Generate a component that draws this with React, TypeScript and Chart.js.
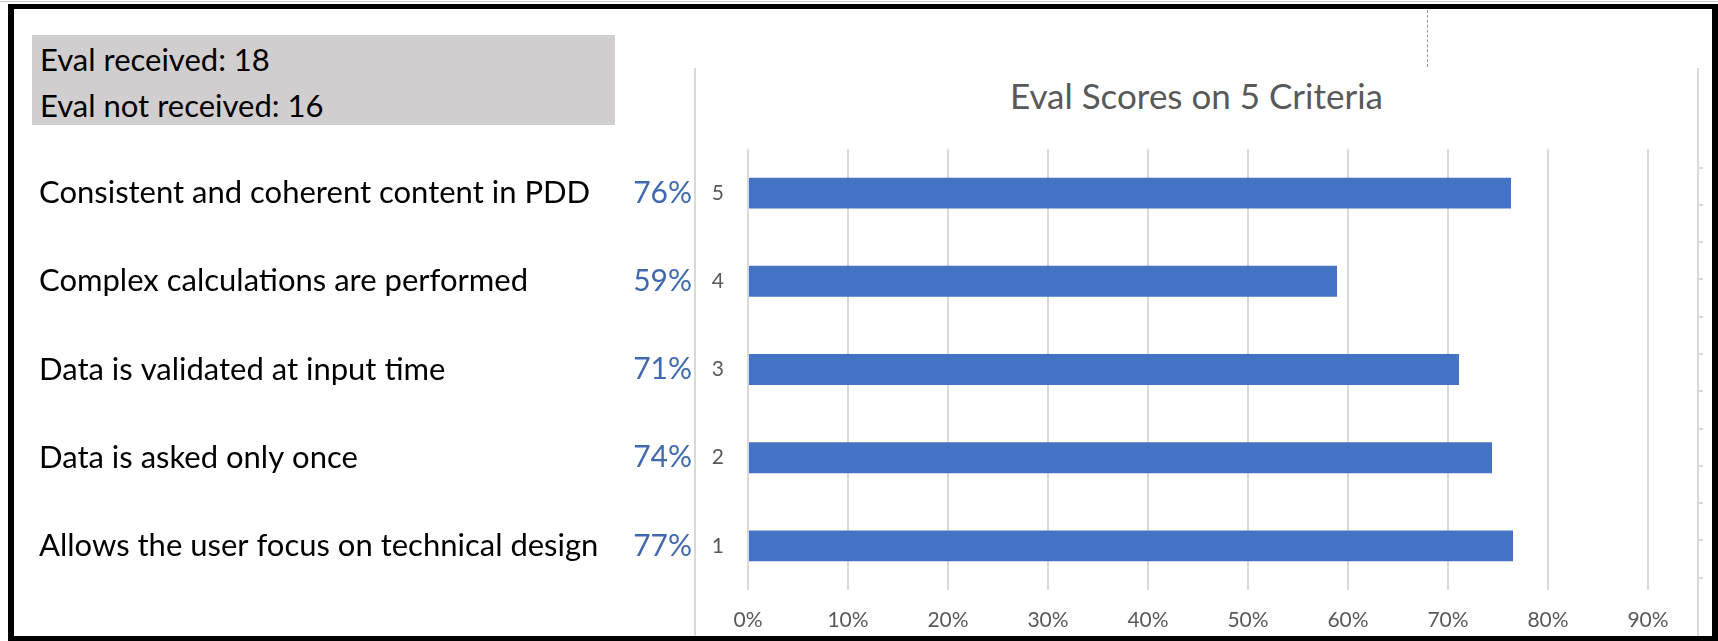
import React, { useEffect, useRef } from "react";
import { Chart, registerables } from "chart.js";

Chart.register(...registerables);

// ---- data ----
const criterionNumbers = ["1", "2", "3", "4", "5"];
const criterionNames = [
  "Allows the user focus on technical design",
  "Data is asked only once",
  "Data is validated at input time",
  "Complex calculations are performed",
  "Consistent and coherent content in PDD",
];
const scores = [76.5, 74.4, 71.1, 58.9, 76.3]; // percent
const scoreLabels = scores.map((v) => Math.round(v) + "%");
const xTickValues = [0, 10, 20, 30, 40, 50, 60, 70, 80, 90];
const rightAxisTicks = [0, 1, 2, 3, 4, 5, 6, 7, 8, 9, 10];
const evalReceived = 18;
const evalNotReceived = 16;
const chartTitle = "Eval Scores on 5 Criteria";

const FONT = "Lato, 'Open Sans', sans-serif";
const BAR_BLUE = "#4472C4";
const PCT_BLUE = "#4169B0";
const AXIS_GREY = "#595959";
const GRID_GREY = "#D9D9D9";

export default function App() {
  const canvasRef = useRef<HTMLCanvasElement | null>(null);

  useEffect(() => {
    document.body.style.margin = "0";
    const canvas = canvasRef.current;
    if (!canvas) return;
    const chart = new Chart(canvas, {
      type: "bar",
      data: {
        labels: criterionNumbers,
        datasets: [
          {
            data: scores,
            backgroundColor: BAR_BLUE,
            borderWidth: 0,
            barPercentage: 0.35,
            categoryPercentage: 1,
            yAxisID: "y",
          },
        ],
      },
      options: {
        indexAxis: "y",
        animation: false,
        responsive: false,
        devicePixelRatio: 1,
        layout: { padding: { left: 39, top: 149, right: 6, bottom: 11 } },
        plugins: {
          legend: { display: false },
          tooltip: { enabled: false },
          title: { display: false },
        },
        scales: {
          x: {
            type: "linear",
            position: "bottom",
            min: 0,
            max: 95,
            afterBuildTicks: (scale: any) => {
              scale.ticks = xTickValues.map((v) => ({ value: v }));
            },
            afterFit: (scale: any) => {
              scale.height = 40;
            },
            grid: {
              color: GRID_GREY,
              lineWidth: 2,
              drawTicks: false,
            },
            border: { display: false },
            ticks: {
              padding: 18,
              color: AXIS_GREY,
              font: { family: FONT, size: 21 },
              callback: (v: any) => v + "%",
            },
          },
          y: {
            type: "category",
            position: "left",
            reverse: true,
            weight: 1,
            afterFit: (scale: any) => {
              scale.width = 53;
            },
            grid: { display: false, drawTicks: false },
            border: { display: false },
            ticks: {
              autoSkip: false,
              padding: 24,
              color: AXIS_GREY,
              font: { family: FONT, size: 21 },
            },
          },
          yPct: {
            type: "category",
            position: "left",
            labels: scoreLabels,
            reverse: true,
            weight: 2,
            afterFit: (scale: any) => {
              scale.width = 75;
            },
            grid: { display: false, drawTicks: false },
            border: { display: false },
            ticks: {
              autoSkip: false,
              padding: 3,
              color: PCT_BLUE,
              font: { family: FONT, size: 30 },
            },
          },
          yName: {
            type: "category",
            position: "left",
            labels: criterionNames,
            reverse: true,
            weight: 3,
            afterFit: (scale: any) => {
              scale.width = 581;
            },
            grid: { display: false, drawTicks: false },
            border: { display: false },
            ticks: {
              autoSkip: false,
              crossAlign: "far",
              padding: 0,
              color: "#000000",
              font: { family: FONT, size: 31 },
            },
          },
          yR: {
            type: "linear",
            position: "right",
            min: -0.2927,
            max: 10.4634,
            afterBuildTicks: (scale: any) => {
              scale.ticks = rightAxisTicks.map((v) => ({ value: v }));
            },
            afterFit: (scale: any) => {
              scale.width = 14;
            },
            grid: {
              display: true,
              drawOnChartArea: false,
              drawTicks: true,
              tickLength: 5,
              color: GRID_GREY,
              lineWidth: 2,
            },
            border: { display: false },
            ticks: { display: false },
          },
        },
      } as any,
    });
    return () => chart.destroy();
  }, []);

  return (
    <div
      style={{
        position: "relative",
        width: 1718,
        height: 641,
        background: "#ffffff",
        overflow: "hidden",
        fontFamily: FONT,
      }}
    >
      {/* spreadsheet gridline above frame */}
      <div style={{ position: "absolute", left: 0, top: 1, width: 1718, height: 1, background: "#C8C8C8" }} />
      {/* black frame */}
      <div
        style={{
          position: "absolute",
          left: 8,
          top: 4,
          width: 1710,
          height: 637,
          boxSizing: "border-box",
          borderStyle: "solid",
          borderColor: "#000000",
          borderWidth: "5px 6px 5px 6px",
        }}
      />
      {/* info box */}
      <div
        style={{
          position: "absolute",
          left: 32,
          top: 35,
          width: 583,
          height: 90,
          boxSizing: "border-box",
          background: "#D0CECE",
          paddingLeft: 8,
          paddingTop: 1,
          fontSize: 31,
          lineHeight: "46px",
          color: "#000000",
        }}
      >
        <div>Eval received: {evalReceived}</div>
        <div>Eval not received: {evalNotReceived}</div>
      </div>
      {/* chart object frame lines */}
      <div style={{ position: "absolute", left: 694, top: 68, width: 2, height: 568, background: GRID_GREY }} />
      <div style={{ position: "absolute", left: 1697, top: 68, width: 2, height: 568, background: GRID_GREY }} />
      {/* dashed guide line */}
      <div style={{ position: "absolute", left: 1427, top: 10, width: 0, height: 57, borderLeft: "1px dashed #999999" }} />
      {/* chart title */}
      <div
        style={{
          position: "absolute",
          left: 695,
          top: 75,
          width: 1003,
          height: 40,
          lineHeight: "40px",
          textAlign: "center",
          fontSize: 35,
          color: AXIS_GREY,
        }}
      >
        {chartTitle}
      </div>
      <canvas
        ref={canvasRef}
        width={1718}
        height={641}
        style={{ position: "absolute", left: 0, top: 0, display: "block" }}
      />
    </div>
  );
}
